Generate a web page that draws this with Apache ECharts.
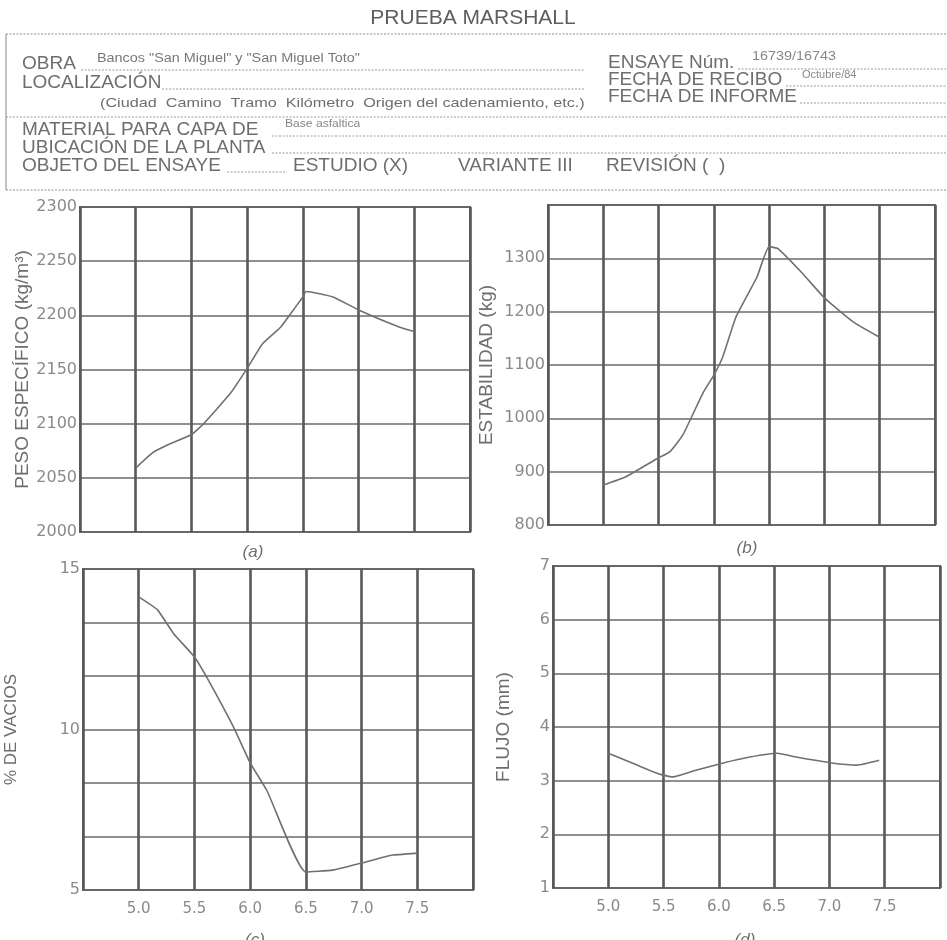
<!DOCTYPE html>
<html><head><meta charset="utf-8">
<script src="https://cdn.jsdelivr.net/npm/echarts@6/dist/echarts.min.js"></script>
<style>html,body{margin:0;padding:0;background:#fff}#c{width:947px;height:940px}</style>
</head><body><div id="c"></div>
<script>
// ---- data ----
const xTickLabels = ['5.0', '5.5', '6.0', '6.5', '7.0', '7.5'];

// (a) Peso específico (kg/m3) vs % asfalto
const pesoX = [5.0, 5.15, 5.28, 5.5, 5.6, 5.85, 6.0, 6.14, 6.3, 6.38, 6.5, 6.53, 6.77, 7.0, 7.37, 7.5];
const pesoY = [2059, 2073, 2080, 2090, 2099, 2128, 2151, 2174, 2189, 2200, 2217, 2222, 2217, 2205, 2189, 2185];
const pesoTicks = [2000, 2050, 2100, 2150, 2200, 2250, 2300];

// (b) Estabilidad (kg)
const estabX = [5.0, 5.2, 5.5, 5.6, 5.72, 5.9, 6.0, 6.08, 6.2, 6.39, 6.5, 6.58, 6.8, 7.0, 7.26, 7.5];
const estabY = [875, 890, 926, 937, 969, 1047, 1081, 1115, 1190, 1265, 1322, 1318, 1272, 1226, 1181, 1152];
const estabTicks = [800, 900, 1000, 1100, 1200, 1300];

// (c) % de vacíos
const vaciosX = [5.0, 5.17, 5.31, 5.5, 5.61, 5.85, 6.0, 6.15, 6.5, 6.74, 7.0, 7.28, 7.5];
const vaciosY = [14.13, 13.72, 13.0, 12.26, 11.63, 10.08, 8.96, 8.1, 5.56, 5.62, 5.84, 6.09, 6.15];
const vaciosTicks = [5, 10, 15];

// (d) Flujo (mm)
const flujoX = [5.0, 5.26, 5.44, 5.58, 5.8, 6.04, 6.28, 6.53, 6.7, 7.02, 7.25, 7.45];
const flujoY = [3.51, 3.29, 3.14, 3.07, 3.2, 3.33, 3.44, 3.51, 3.44, 3.33, 3.29, 3.38];
const flujoTicks = [1, 2, 3, 4, 5, 6, 7];

// ---- rendering ----
const chart = echarts.init(document.getElementById('c'), null, {renderer: 'canvas'});
const pair = (xs, ys) => xs.map((x, i) => [x, ys[i]]);
const TXT = '#6e6e6e';
const LBL = '#8a8a8a';
const FONT = 'Liberation Sans, Arial, sans-serif';
const TICKFONT = 'DejaVu Sans, sans-serif';

const grids = [
  {left: 80, top: 207, width: 390, height: 325},
  {left: 548, top: 205, width: 387, height: 320},
  {left: 83, top: 569, width: 390, height: 321},
  {left: 553, top: 566, width: 387, height: 322}
].map(g => Object.assign(g, {show: true, borderColor: '#5e5e5e', borderWidth: 2,
  backgroundColor: 'transparent', containLabel: false, outerBoundsMode: 'none'}));

function xAxis(i, showLabels) {
  return {
    type: 'value', gridIndex: i, min: 4.5, max: 8, interval: 0.5,
    axisLine: {show: false}, axisTick: {show: false},
    axisLabel: {
      show: showLabels, color: LBL, fontSize: 15, fontFamily: TICKFONT, margin: 12,
      formatter: v => { const s = v.toFixed(1); return xTickLabels.indexOf(s) >= 0 ? s : ''; }
    },
    splitLine: {show: true, lineStyle: {color: '#585858', width: 2.6}}
  };
}
function yAxis(i, min, max, interval, ticks, name, gap, nameSize) {
  return {
    type: 'value', gridIndex: i, min: min, max: max, interval: interval,
    name: name, nameLocation: 'middle', nameGap: gap, nameRotate: 90,
    nameTextStyle: {color: TXT, fontSize: nameSize, fontFamily: FONT},
    axisLine: {show: false}, axisTick: {show: false},
    axisLabel: {
      color: LBL, fontSize: 16, fontFamily: TICKFONT, margin: 3,
      formatter: v => { const r = Math.round(v); return (Math.abs(v - r) < 1e-6 && ticks.indexOf(r) >= 0) ? String(r) : ''; }
    },
    splitLine: {show: true, lineStyle: {color: '#6a6a6a', width: 1.6}}
  };
}
const lineStyle = {color: '#707070', width: 1.6};
function series(i, data) {
  return {type: 'line', xAxisIndex: i, yAxisIndex: i, data: data, symbol: 'none', smooth: 0.15,
    lineStyle: lineStyle, silent: true, animation: false};
}

// header (form) graphics
const G = [];
function T(x, y, text, size, extra, sx) {
  const el = {type: 'text', x: x, y: y, silent: true,
    style: Object.assign({text: text, fill: TXT, font: size + 'px ' + FONT, textVerticalAlign: 'middle'}, extra || {})};
  if (sx) { el.scaleX = sx; }
  G.push(el);
}
function L(x1, y1, x2, y2, dash, color, w) {
  G.push({type: 'line', silent: true, shape: {x1: x1, y1: y1, x2: x2, y2: y2},
    style: {stroke: color || '#9a9a9a', lineWidth: w || 1, lineDash: dash ? [2, 1.5] : null}});
}
T(473, 18, 'PRUEBA MARSHALL', 21, {textAlign: 'center', fill: '#5e5e5e'});
// box
L(6, 34, 947, 34, true, '#8e8e8e', 1.2);
L(6, 34, 6, 190, false, '#9a9a9a', 1.2);
L(6, 190, 947, 190, true, '#8e8e8e', 1.2);
// left column
T(22, 64, 'OBRA', 19);
L(81, 70, 585, 70, true);
T(97, 59, 'Bancos "San Miguel" y "San Miguel Toto"', 12, {fill: '#777'}, 1.2);
T(22, 83, 'LOCALIZACIÓN', 19);
L(162, 89, 585, 89, true);
T(100, 103, '(Ciudad  Camino  Tramo  Kilómetro  Origen del cadenamiento, etc.)', 13.5, null, 1.2);
L(6, 117, 947, 117, true);
T(22, 130, 'MATERIAL PARA CAPA DE', 19);
L(272, 136, 947, 136, true);
T(285, 124, 'Base asfaltica', 11, {fill: '#888'}, 1.1);
T(22, 148, 'UBICACIÓN DE LA PLANTA', 19);
L(272, 153, 947, 153, true);
T(22, 166, 'OBJETO DEL ENSAYE', 19);
L(227, 172, 287, 172, true);
T(293, 166, 'ESTUDIO (X)', 19);
T(458, 166, 'VARIANTE III', 19);
T(606, 166, 'REVISIÓN (  )', 19);
// right column
T(608, 63, 'ENSAYE Núm.', 19);
L(738, 69, 947, 69, true);
T(752, 57, '16739/16743', 12, {fill: '#888'}, 1.2);
T(608, 80, 'FECHA DE RECIBO', 19);
L(786, 86, 947, 86, true);
T(802, 75, 'Octubre/84', 11, {fill: '#888'});
T(608, 97, 'FECHA DE INFORME', 19);
L(800, 103, 947, 103, true);
// sub-figure labels
T(253, 552, '(a)', 17, {textAlign: 'center', font: 'italic 17px ' + FONT});
T(747, 548, '(b)', 17, {textAlign: 'center', font: 'italic 17px ' + FONT});
T(255, 940, '(c)', 17, {textAlign: 'center', font: 'italic 17px ' + FONT});
T(745, 940, '(d)', 17, {textAlign: 'center', font: 'italic 17px ' + FONT});

const option = {
  backgroundColor: '#ffffff',
  animation: false,
  grid: grids,
  xAxis: [xAxis(0, false), xAxis(1, false), xAxis(2, true), xAxis(3, true)],
  yAxis: [
    yAxis(0, 2000, 2300, 50, pesoTicks, 'PESO ESPECÍFICO (kg/m³)', 48, 19),
    yAxis(1, 800, 1400, 100, estabTicks, 'ESTABILIDAD (kg)', 52, 19),
    yAxis(2, 5, 15, 5 / 3, vaciosTicks, '% DE VACIOS', 63, 17),
    yAxis(3, 1, 7, 1, flujoTicks, 'FLUJO (mm)', 40, 19)
  ],
  series: [
    series(0, pair(pesoX, pesoY)),
    series(1, pair(estabX, estabY)),
    series(2, pair(vaciosX, vaciosY)),
    series(3, pair(flujoX, flujoY))
  ],
  graphic: G
};
chart.setOption(option);
</script>
</body></html>
